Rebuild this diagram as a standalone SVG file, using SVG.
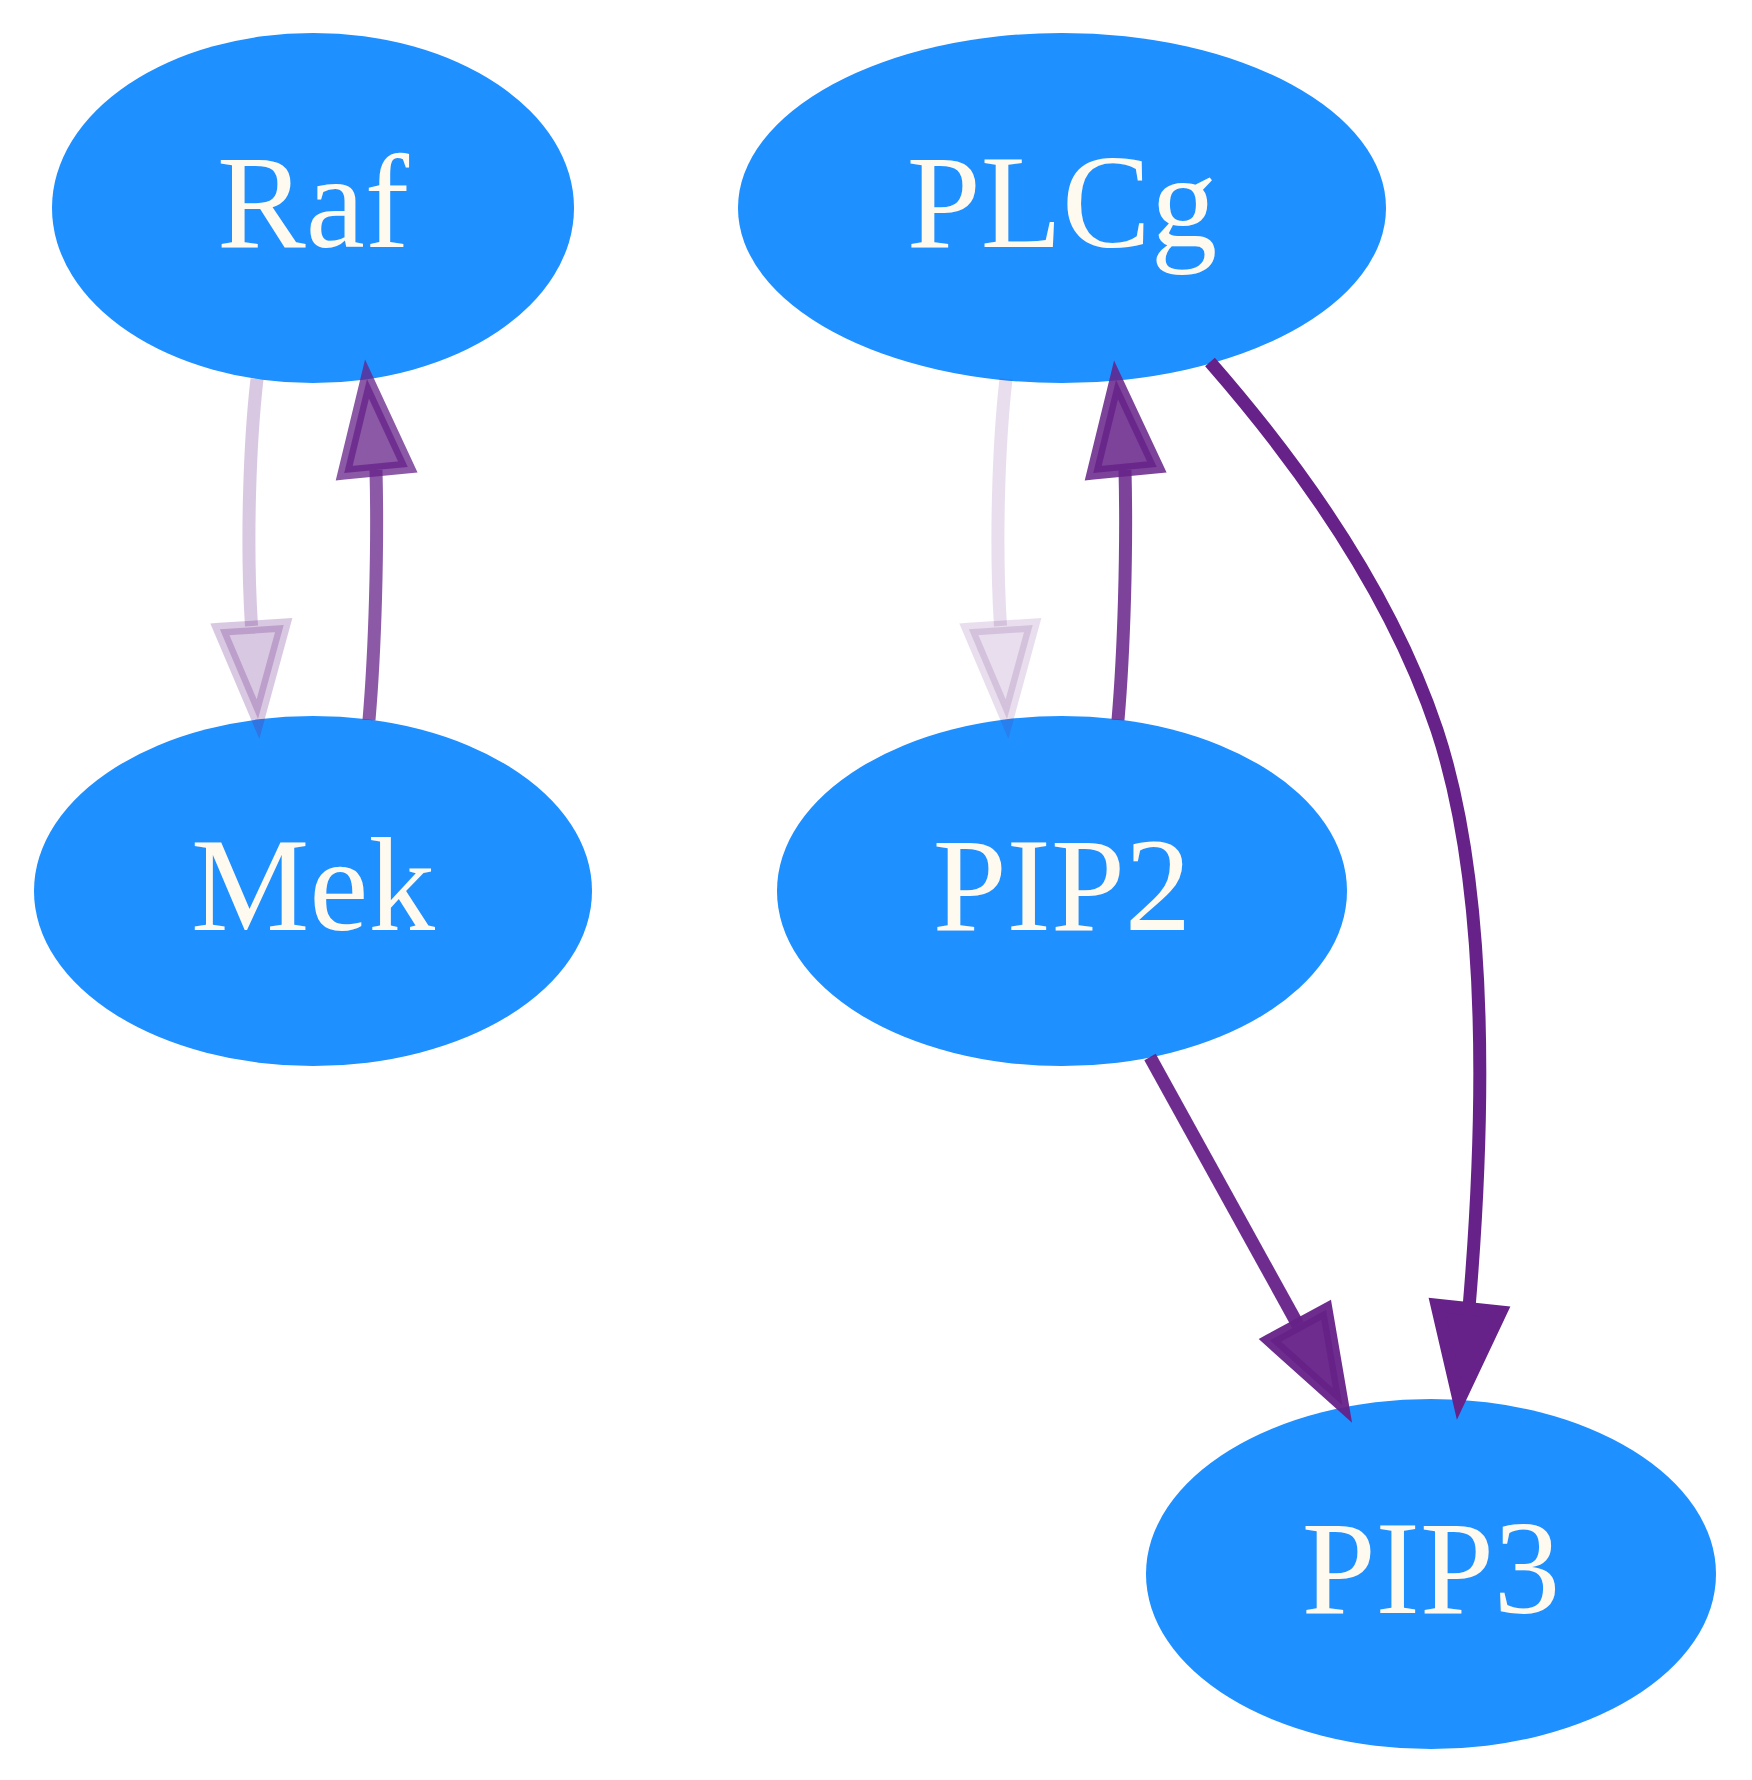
<svg xmlns="http://www.w3.org/2000/svg" width="1752" height="1780" viewBox="0 0 1752 1780">
<style>
.node ellipse { fill: #1e90ff; stroke: none; }
.node text { font-family: "Liberation Serif", "Times New Roman", serif; font-size: 133px; fill: #fffaf0; text-anchor: middle; }
.edge path { fill: none; stroke: #662288; stroke-width: 13; }
.edge polygon { fill: #662288; stroke: #662288; stroke-width: 13; }
</style>
<rect width="1752" height="1780" fill="#ffffff"/>
<g id="nodes">
  <g id="node-Raf" class="node">
    <ellipse cx="313" cy="208" rx="261" ry="175"/>
    <text x="313" y="247">Raf</text>
  </g>
  <g id="node-PLCg" class="node">
    <ellipse cx="1062" cy="208" rx="324" ry="175"/>
    <text x="1062" y="247">PLCg</text>
  </g>
  <g id="node-Mek" class="node">
    <ellipse cx="313" cy="891" rx="279" ry="175"/>
    <text x="313" y="930">Mek</text>
  </g>
  <g id="node-PIP2" class="node">
    <ellipse cx="1062" cy="891" rx="285" ry="175"/>
    <text x="1062" y="930">PIP2</text>
  </g>
  <g id="node-PIP3" class="node">
    <ellipse cx="1431" cy="1574" rx="285" ry="175"/>
    <text x="1431" y="1613">PIP3</text>
  </g>
</g>
<g id="edges">
  <g id="edge-Raf-Mek" class="edge">
    <path d="M257,379 C250,440 246,540 251.5,626" stroke-opacity="0.25"/>
    <polygon points="219.9,629.3 283.7,625.1 258,719" fill-opacity="0.25" stroke-opacity="0.25"/>
  </g>
  <g id="edge-Mek-Raf" class="edge">
    <path d="M369,720 C375,650 378,550 376,470" stroke-opacity="0.75"/>
    <polygon points="344.2,473.1 407.8,466.9 367,379" fill-opacity="0.75" stroke-opacity="0.75"/>
  </g>
  <g id="edge-PLCg-PIP2" class="edge">
    <path d="M1006,379 C999,440 995,540 1000.5,626" stroke-opacity="0.15"/>
    <polygon points="968.9,629.3 1032.7,625.1 1007,719" fill-opacity="0.15" stroke-opacity="0.15"/>
  </g>
  <g id="edge-PIP2-PLCg" class="edge">
    <path d="M1118,720 C1124,650 1127,550 1125,470" stroke-opacity="0.85"/>
    <polygon points="1093.2,473.1 1156.8,466.9 1116,380" fill-opacity="0.85" stroke-opacity="0.85"/>
  </g>
  <g id="edge-PIP2-PIP3" class="edge">
    <path d="M1150,1057 L1298,1325" stroke-opacity="0.95"/>
    <polygon points="1269.9,1340.3 1326.1,1309.7 1342.5,1405.5" fill-opacity="0.95" stroke-opacity="0.95"/>
  </g>
  <g id="edge-PLCg-PIP3" class="edge">
    <path d="M1210,362 C1300,465 1390,590 1437,730 C1470,830 1495,1000 1469,1308"/>
    <polygon points="1437,1305.2 1500.6,1312 1459,1400"/>
  </g>
</g>
</svg>
